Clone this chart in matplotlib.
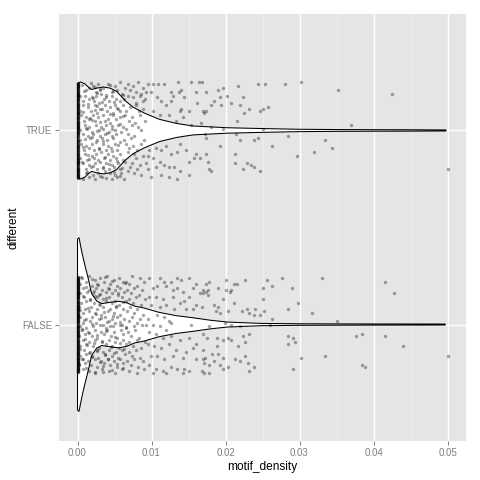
import numpy as np
import matplotlib
matplotlib.use("Agg")
import matplotlib.pyplot as plt

# categories on the y axis (bottom to top)
categories = ["FALSE", "TRUE"]

# violin outline: motif_density and half width (in category units)
true_violin_x = [0.0, 0.0004, 0.001, 0.0015, 0.0019, 0.0026, 0.0035, 0.0044, 0.0053, 0.0064,
                 0.0075, 0.0082, 0.0089, 0.0095, 0.0111, 0.0134, 0.0156, 0.0202, 0.0247,
                 0.030, 0.035, 0.040, 0.045, 0.0498]
true_violin_w = [0.240, 0.250, 0.240, 0.222, 0.211, 0.218, 0.224, 0.218, 0.201, 0.155,
                 0.120, 0.106, 0.092, 0.082, 0.057, 0.036, 0.023, 0.014, 0.010,
                 0.006, 0.0046, 0.004, 0.0036, 0.0026]

false_violin_x = [0.0, 0.0002, 0.0006, 0.001, 0.0014, 0.0019, 0.0026, 0.0033, 0.0045, 0.0055,
                  0.0066, 0.0077, 0.009, 0.011, 0.0133, 0.0156, 0.018, 0.0202, 0.0247,
                  0.030, 0.035, 0.040, 0.045, 0.0497]
false_violin_w = [0.440, 0.448, 0.371, 0.305, 0.245, 0.160, 0.121, 0.108, 0.115, 0.120,
                  0.113, 0.095, 0.085, 0.063, 0.046, 0.035, 0.022, 0.013, 0.006,
                  0.004, 0.0035, 0.003, 0.0028, 0.0025]

# jittered points: motif_density and vertical jitter
true_density = [
    0.0021, 0.0028, 0.0034, 0.0041, 0.0050, 0.0057, 0.0064, 0.0068, 0.0075, 0.0082, 0.0088,
    0.0012, 0.0016, 0.0025, 0.0031, 0.0046, 0.0053, 0.0060, 0.0071, 0.0079, 0.0086,
    0.0010, 0.0019, 0.0025, 0.0032, 0.0039, 0.0046, 0.0052, 0.0068, 0.0075, 0.0084, 0.0091,
    0.0007, 0.0015, 0.0022, 0.0029, 0.0036, 0.0043, 0.0058, 0.0063, 0.0079, 0.0089,
    0.0007, 0.0014, 0.0023, 0.0030, 0.0037, 0.0044, 0.0050, 0.0055, 0.0061, 0.0071, 0.0079, 0.0088,
    0.0003, 0.0018, 0.0026, 0.0033, 0.0040, 0.0048, 0.0057, 0.0066, 0.0083,
    0.0005, 0.0012, 0.0021, 0.0028, 0.0034, 0.0041, 0.0048, 0.0057, 0.0064, 0.0073, 0.0084,
    0.0009, 0.0016, 0.0024, 0.0037, 0.0044, 0.0052, 0.0069, 0.0078, 0.0091,
    0.0010, 0.0016, 0.0025, 0.0032, 0.0039, 0.0046, 0.0055, 0.0061, 0.0073, 0.0082,
    0.0004, 0.0013, 0.0020, 0.0029, 0.0035, 0.0042, 0.0050, 0.0066, 0.0086,
    0.0007, 0.0014, 0.0021, 0.0030, 0.0037, 0.0046, 0.0052, 0.0059, 0.0068, 0.0077,
    0.0003, 0.0017, 0.0026, 0.0033, 0.0040, 0.0048, 0.0063, 0.0072, 0.0090,
    0.0005, 0.0012, 0.0019, 0.0025, 0.0034, 0.0041, 0.0050, 0.0057, 0.0066, 0.0075, 0.0086,
    0.0009, 0.0015, 0.0022, 0.0029, 0.0038, 0.0045, 0.0053, 0.0070, 0.0081,
    0.0010, 0.0019, 0.0025, 0.0032, 0.0041, 0.0048, 0.0057, 0.0068, 0.0077, 0.0088,
    0.0004, 0.0013, 0.0022, 0.0028, 0.0036, 0.0044, 0.0052, 0.0061, 0.0079,
    0.0007, 0.0016, 0.0023, 0.0030, 0.0039, 0.0046, 0.0055, 0.0064, 0.0073, 0.0084, 0.0093,
    0.0011, 0.0018, 0.0026, 0.0034, 0.0042, 0.0049, 0.0058, 0.0071, 0.0080,
    0.0012, 0.0021, 0.0028, 0.0037, 0.0044, 0.0050, 0.0059, 0.0068, 0.0077, 0.0086,
    0.0008, 0.0016, 0.0024, 0.0033, 0.0047, 0.0054, 0.0063,
    0.0006, 0.0018, 0.0030, 0.0044, 0.0027, 0.0009, 0.0021, 0.0038, 0.0049, 0.0014,
    0.0033, 0.0053, 0.0008, 0.0023, 0.0044, 0.0017, 0.0031, 0.0047, 0.0011, 0.0026,
    0.0040, 0.0057, 0.0019, 0.0035, 0.0008, 0.0029, 0.0046, 0.0014, 0.0037, 0.0054,
    0.0006, 0.0021, 0.0042, 0.0013, 0.0031, 0.0049, 0.0060, 0.0039, 0.0024, 0.0062,
    0.0003, 0.0010, 0.0055, 0.0062, 0.0027, 0.0016, 0.0048, 0.0034, 0.0020, 0.0058,
    0.0095, 0.0102, 0.0109, 0.0117, 0.0136, 0.0153, 0.0164,
    0.0093, 0.0099, 0.0108, 0.0113, 0.0126, 0.0129, 0.0137, 0.0140, 0.0144, 0.0160,
    0.0120, 0.0126, 0.0138, 0.0140, 0.0151, 0.0162, 0.0102, 0.0111, 0.0124, 0.0133, 0.0142, 0.0153,
    0.0097, 0.0106, 0.0113, 0.0120, 0.0138, 0.0147, 0.0160, 0.0151, 0.0158, 0.0165,
    0.0095, 0.0102, 0.0111, 0.0126, 0.0135,
    0.0095, 0.0106, 0.0117, 0.0124, 0.0131, 0.0138, 0.0151, 0.0099, 0.0113, 0.0124, 0.0135,
    0.0168, 0.0174, 0.0190, 0.0196, 0.0217, 0.0244, 0.0254, 0.0281, 0.0302, 0.0352, 0.0425,
    0.0202, 0.0224, 0.0193, 0.0185, 0.0208, 0.0181, 0.0194, 0.0220, 0.0257, 0.0250, 0.0232,
    0.0170, 0.0173, 0.0247, 0.0225, 0.0171, 0.0215, 0.0167, 0.0370, 0.0180, 0.0196, 0.0250,
    0.0172, 0.0214, 0.0285, 0.0173, 0.0220, 0.0239, 0.0244, 0.0334, 0.0263, 0.0192, 0.0344,
    0.0320, 0.0297, 0.0173, 0.0213, 0.0177, 0.0229, 0.0213, 0.0234, 0.0238, 0.0178, 0.0224, 0.0180, 0.0247, 0.0500,
]
true_jitter = [
    0.23, 0.24, 0.22, 0.24, 0.23, 0.25, 0.22, 0.24, 0.23, 0.25, 0.22,
    0.21, 0.22, 0.20, 0.21, 0.20, 0.21, 0.19, 0.21, 0.20, 0.19,
    0.18, 0.17, 0.18, 0.19, 0.17, 0.18, 0.16, 0.18, 0.17, 0.18, 0.16,
    0.15, 0.16, 0.15, 0.14, 0.16, 0.15, 0.15, 0.16, 0.14, 0.15,
    0.13, 0.12, 0.13, 0.11, 0.13, 0.12, 0.13, 0.11, 0.13, 0.12, 0.13, 0.11,
    0.10, 0.10, 0.09, 0.11, 0.10, 0.09, 0.10, 0.10, 0.10,
    0.08, 0.07, 0.08, 0.07, 0.08, 0.06, 0.08, 0.07, 0.08, 0.07, 0.08,
    0.05, 0.06, 0.05, 0.05, 0.04, 0.06, 0.05, 0.04, 0.05,
    0.03, 0.02, 0.03, 0.02, 0.03, 0.01, 0.03, 0.02, 0.03, 0.02,
    0.00, 0.01, -0.01, 0.00, 0.01, -0.01, 0.00, 0.01, 0.00,
    -0.02, -0.03, -0.02, -0.03, -0.02, -0.03, -0.02, -0.01, -0.02, -0.03,
    -0.05, -0.04, -0.05, -0.04, -0.05, -0.04, -0.05, -0.04, -0.05,
    -0.07, -0.08, -0.07, -0.06, -0.07, -0.08, -0.07, -0.06, -0.07, -0.08, -0.07,
    -0.10, -0.09, -0.10, -0.09, -0.10, -0.09, -0.10, -0.09, -0.10,
    -0.12, -0.13, -0.12, -0.11, -0.12, -0.13, -0.12, -0.11, -0.12, -0.13,
    -0.14, -0.15, -0.14, -0.15, -0.14, -0.15, -0.14, -0.15, -0.14,
    -0.17, -0.18, -0.17, -0.16, -0.17, -0.18, -0.17, -0.16, -0.17, -0.18, -0.17,
    -0.20, -0.19, -0.20, -0.19, -0.20, -0.19, -0.20, -0.19, -0.20,
    -0.22, -0.23, -0.22, -0.21, -0.22, -0.23, -0.22, -0.21, -0.22, -0.23,
    -0.25, -0.24, -0.25, -0.24, -0.25, -0.24, -0.25,
    0.235, 0.245, 0.215, 0.235, 0.195, 0.205, 0.165, 0.185, 0.145, 0.135,
    0.145, 0.115, 0.095, 0.105, 0.085, 0.065, 0.045, 0.025, 0.015, -0.005,
    -0.015, 0.035, -0.035, -0.055, -0.085, -0.095, -0.105, -0.125, -0.135, -0.155,
    -0.165, -0.185, -0.175, -0.215, -0.235, -0.215, -0.195, -0.245, 0.225, 0.185,
    0.175, -0.045, -0.075, 0.075, 0.125, -0.145, 0.205, -0.195, 0.055, -0.235,
    0.24, 0.24, 0.24, 0.24, 0.25, 0.25, 0.25,
    0.20, 0.20, 0.17, 0.15, 0.20, 0.18, 0.20, 0.21, 0.17, 0.20,
    0.13, 0.15, 0.10, 0.11, 0.10, 0.14, 0.10, 0.08, 0.08, 0.05, 0.07, 0.03,
    -0.10, -0.09, -0.10, -0.08, -0.07, -0.10, -0.12, -0.16, -0.14, -0.14,
    -0.13, -0.14, -0.16, -0.12, -0.11,
    -0.20, -0.19, -0.18, -0.19, -0.19, -0.21, -0.23, -0.24, -0.23, -0.24, -0.25,
    0.25, 0.20, 0.21, 0.22, 0.23, 0.24, 0.24, 0.24, 0.25, 0.21, 0.19,
    0.18, 0.17, 0.17, 0.15, 0.14, 0.13, 0.13, 0.13, 0.12, 0.11, 0.11,
    0.10, 0.10, 0.10, 0.09, 0.09, 0.05, 0.04, 0.03, 0.02, 0.01, 0.01,
    -0.02, -0.02, -0.03, -0.04, -0.05, -0.05, -0.04, -0.05, -0.08, -0.08, -0.09,
    -0.11, -0.13, -0.12, -0.12, -0.16, -0.17, -0.17, -0.18, -0.19, -0.20, -0.20, -0.21, -0.21, -0.20,
]
# points sitting exactly at motif_density == 0 (only their jitter differs)
true_zero_jitter = [
    0.24, 0.17, -0.03, 0.09, -0.21, 0.13, -0.11, 0.02, 0.22, -0.16, 0.06, -0.24, 0.19, -0.07,
    0.11, -0.19, 0.04, 0.15, -0.13, -0.01, 0.23, -0.09, 0.08, -0.22, 0.18, -0.05, 0.12, -0.17,
    0.01, 0.20, -0.14, 0.07, -0.23, 0.14, -0.02, 0.10, -0.20, 0.05, 0.21, -0.12, -0.08, 0.16,
    -0.18, 0.03, 0.245, -0.10, 0.00, -0.245, 0.125, -0.065, 0.185, -0.155, 0.035, 0.225, -0.205,
    0.095, -0.035, 0.155, -0.125, 0.065, -0.225, 0.205, -0.085, 0.115, -0.175, 0.015, 0.175,
    -0.145, 0.045, -0.015, 0.235, -0.195, 0.085, -0.055, 0.135, -0.235, 0.025, -0.105, 0.195, -0.165,
    0.2425, 0.1375, -0.0275, 0.0825, -0.2125, 0.1625, -0.1175, 0.0125, 0.2125, -0.1575, 0.0575,
    -0.2375, 0.1875, -0.0725, 0.1075, -0.1925, 0.0375, 0.1525, -0.1375, -0.0075, 0.2275, -0.0925,
    0.0725, -0.2275, 0.1775, -0.0475, 0.1175, -0.1725, 0.0075, 0.1975, -0.1425, 0.0675, -0.2425,
    0.1425, -0.0175, 0.0975, -0.2025, 0.0475, 0.2175, -0.1275, -0.0825, 0.1675, -0.1825, 0.0275,
    0.2325, -0.1025, -0.0025, -0.2175, 0.1275, -0.0625, 0.1825, -0.1525, 0.0325, 0.2225, -0.2075,
    0.0925, -0.0375, 0.1575, -0.1225, 0.0625, -0.2225, 0.2075, -0.0875, 0.1125, -0.1675, 0.0175,
    0.1725, -0.1475, 0.0425, -0.0125, 0.2375, -0.1975, 0.0875, -0.0525, 0.1325, -0.2325, 0.0225,
    -0.1075, 0.1925, -0.1625,
]

false_density = [
    0.0006, 0.0015, 0.0023, 0.0031, 0.0040, 0.0049, 0.0056, 0.0065, 0.0074, 0.0085,
    0.0003, 0.0011, 0.0019, 0.0027, 0.0036, 0.0044, 0.0053, 0.0061, 0.0070, 0.0080, 0.0090,
    0.0008, 0.0016, 0.0025, 0.0033, 0.0041, 0.0050, 0.0058, 0.0067, 0.0077, 0.0087,
    0.0004, 0.0013, 0.0021, 0.0029, 0.0038, 0.0046, 0.0055, 0.0063, 0.0072, 0.0083,
    0.0009, 0.0017, 0.0026, 0.0034, 0.0043, 0.0051, 0.0060, 0.0069, 0.0079, 0.0091,
    0.0005, 0.0012, 0.0022, 0.0030, 0.0039, 0.0047, 0.0056, 0.0065, 0.0075, 0.0086,
    0.0002, 0.0010, 0.0018, 0.0027, 0.0035, 0.0044, 0.0052, 0.0062, 0.0071, 0.0081,
    0.0007, 0.0015, 0.0024, 0.0032, 0.0041, 0.0049, 0.0058, 0.0067, 0.0077, 0.0089,
    0.0004, 0.0012, 0.0020, 0.0029, 0.0037, 0.0046, 0.0054, 0.0063, 0.0073, 0.0084,
    0.0008, 0.0017, 0.0025, 0.0034, 0.0042, 0.0051, 0.0060, 0.0069, 0.0080, 0.0092,
    0.0003, 0.0011, 0.0021, 0.0030, 0.0039, 0.0048, 0.0057, 0.0066, 0.0076, 0.0087,
    0.0006, 0.0014, 0.0023, 0.0032, 0.0040, 0.0049, 0.0059, 0.0068, 0.0078,
    0.0002, 0.0010, 0.0019, 0.0027, 0.0036, 0.0045, 0.0053, 0.0062, 0.0072, 0.0083,
    0.0007, 0.0016, 0.0024, 0.0033, 0.0042, 0.0050, 0.0061, 0.0070, 0.0081, 0.0091,
    0.0004, 0.0012, 0.0021, 0.0029, 0.0038, 0.0047, 0.0056, 0.0065, 0.0075, 0.0086,
    0.0009, 0.0017, 0.0026, 0.0035, 0.0043, 0.0052, 0.0060, 0.0069, 0.0079,
    0.0003, 0.0011, 0.0020, 0.0028, 0.0037, 0.0046, 0.0055, 0.0064, 0.0074, 0.0085,
    0.0006, 0.0014, 0.0023, 0.0032, 0.0041, 0.0049, 0.0058, 0.0067, 0.0077, 0.0089,
    0.0002, 0.0010, 0.0018, 0.0027, 0.0036, 0.0044, 0.0053, 0.0062, 0.0072, 0.0082,
    0.0007, 0.0015, 0.0024, 0.0033, 0.0042, 0.0051, 0.0060, 0.0070, 0.0080, 0.0090,
    0.0005, 0.0019, 0.0028, 0.0037, 0.0046, 0.0011, 0.0022, 0.0031, 0.0043, 0.0055,
    0.0007, 0.0017, 0.0029, 0.0039, 0.0052, 0.0003, 0.0014, 0.0025, 0.0036, 0.0048,
    0.0009, 0.0020, 0.0032, 0.0044, 0.0057, 0.0006, 0.0016, 0.0027, 0.0038, 0.0050,
    0.0010, 0.0022, 0.0033, 0.0045, 0.0058, 0.0004, 0.0015, 0.0026, 0.0037, 0.0049,
    0.0008, 0.0019, 0.0030, 0.0041, 0.0054, 0.0012, 0.0023, 0.0035, 0.0047, 0.0062,
    0.0064, 0.0061, 0.0066, 0.0063, 0.0001, 0.0002, 0.0024, 0.0040, 0.0013, 0.0034,
    0.0097, 0.0111, 0.0117, 0.0126, 0.0135, 0.0140, 0.0150, 0.0160,
    0.0102, 0.0108, 0.0120, 0.0129, 0.0135, 0.0142, 0.0156, 0.0165,
    0.0097, 0.0106, 0.0115, 0.0129, 0.0138, 0.0144, 0.0151, 0.0160,
    0.0099, 0.0111, 0.0120, 0.0131, 0.0147, 0.0156,
    0.0095, 0.0108, 0.0117, 0.0124, 0.0102, 0.0111, 0.0120, 0.0126, 0.0153,
    0.0097, 0.0106, 0.0115, 0.0126, 0.0138, 0.0151, 0.0160,
    0.0095, 0.0104, 0.0113, 0.0124, 0.0133, 0.0147, 0.0156,
    0.0099, 0.0108, 0.0117, 0.0129, 0.0142, 0.0160,
    0.0097, 0.0106, 0.0115, 0.0126, 0.0135, 0.0144, 0.0151, 0.0102, 0.0120, 0.0142,
    0.0173, 0.0178, 0.0169, 0.0173, 0.0176, 0.0169, 0.0177, 0.0200, 0.0190, 0.0200,
    0.0207, 0.0212, 0.0216, 0.0227, 0.0206, 0.0196, 0.0212, 0.0250, 0.0256, 0.0263,
    0.0277, 0.0290, 0.0250, 0.0298, 0.0330, 0.0416, 0.0428, 0.0317, 0.0350,
    0.0168, 0.0184, 0.0190, 0.0187, 0.0193, 0.0203, 0.0222, 0.0229, 0.0232, 0.0238,
    0.0240, 0.0247, 0.0252, 0.0263, 0.0285, 0.0260, 0.0199, 0.0178, 0.0207, 0.0220,
    0.0169, 0.0175, 0.0189, 0.0196, 0.0204, 0.0207, 0.0223, 0.0232, 0.0227, 0.0217,
    0.0189, 0.0170, 0.0182, 0.0190, 0.0196, 0.0172, 0.0227, 0.0213, 0.0220,
    0.0285, 0.0291, 0.0294, 0.0285, 0.0302, 0.0334, 0.0376, 0.0384, 0.0416, 0.0440, 0.0500,
    0.0384, 0.0388, 0.0291, 0.0230, 0.0238, 0.0232, 0.0196, 0.0203, 0.0185, 0.0178,
    0.0171, 0.0168, 0.0178, 0.0171, 0.0193, 0.0169,
]
false_jitter = [
    0.24, 0.25, 0.23, 0.24, 0.25, 0.23, 0.24, 0.22, 0.25, 0.24,
    0.21, 0.22, 0.20, 0.21, 0.22, 0.21, 0.20, 0.22, 0.21, 0.20, 0.22,
    0.19, 0.18, 0.19, 0.18, 0.19, 0.18, 0.19, 0.18, 0.19, 0.18,
    0.16, 0.17, 0.16, 0.15, 0.17, 0.16, 0.15, 0.17, 0.16, 0.15,
    0.14, 0.13, 0.14, 0.13, 0.14, 0.12, 0.14, 0.13, 0.14, 0.13,
    0.11, 0.12, 0.11, 0.10, 0.12, 0.11, 0.10, 0.12, 0.11, 0.10,
    0.09, 0.08, 0.09, 0.08, 0.09, 0.08, 0.09, 0.08, 0.09, 0.08,
    0.06, 0.07, 0.06, 0.05, 0.07, 0.06, 0.05, 0.07, 0.06, 0.05,
    0.04, 0.03, 0.04, 0.03, 0.04, 0.03, 0.04, 0.03, 0.04, 0.03,
    0.01, 0.02, 0.01, 0.00, 0.02, 0.01, 0.00, 0.02, 0.01, 0.00,
    -0.01, -0.02, -0.01, 0.00, -0.02, -0.01, 0.00, -0.02, -0.01, 0.00,
    -0.03, -0.04, -0.03, -0.04, -0.03, -0.04, -0.03, -0.04, -0.03,
    -0.06, -0.05, -0.06, -0.07, -0.05, -0.06, -0.07, -0.05, -0.06, -0.07,
    -0.08, -0.09, -0.08, -0.09, -0.08, -0.09, -0.08, -0.09, -0.08, -0.09,
    -0.11, -0.10, -0.11, -0.12, -0.10, -0.11, -0.12, -0.10, -0.11, -0.12,
    -0.13, -0.14, -0.13, -0.14, -0.13, -0.14, -0.13, -0.14, -0.13,
    -0.16, -0.15, -0.16, -0.17, -0.15, -0.16, -0.17, -0.15, -0.16, -0.17,
    -0.18, -0.19, -0.18, -0.19, -0.18, -0.19, -0.18, -0.19, -0.18, -0.19,
    -0.21, -0.20, -0.21, -0.22, -0.20, -0.21, -0.22, -0.20, -0.21, -0.22,
    -0.23, -0.24, -0.25, -0.23, -0.24, -0.25, -0.23, -0.24, -0.25, -0.23,
    0.245, 0.235, 0.205, 0.245, 0.225, 0.195, 0.175, 0.155, 0.185, 0.165,
    0.145, 0.125, 0.105, 0.135, 0.095, 0.075, 0.085, 0.055, 0.065, 0.045,
    0.025, 0.005, 0.035, -0.005, 0.015, -0.025, -0.045, -0.055, -0.035, -0.065,
    -0.075, -0.095, -0.085, -0.115, -0.095, -0.125, -0.145, -0.135, -0.155, -0.145,
    -0.175, -0.165, -0.195, -0.175, -0.205, -0.225, -0.245, -0.215, -0.235, -0.225,
    0.215, 0.115, -0.015, -0.125, 0.215, -0.205, 0.145, 0.015, -0.105, -0.245,
    0.24, 0.24, 0.22, 0.22, 0.24, 0.23, 0.24, 0.21,
    0.19, 0.20, 0.20, 0.18, 0.19, 0.17, 0.19, 0.16,
    0.14, 0.14, 0.13, 0.14, 0.11, 0.12, 0.14, 0.10,
    0.10, 0.09, 0.10, 0.08, 0.08, 0.08,
    0.03, 0.05, 0.04, 0.02, 0.00, -0.01, -0.03, 0.01, 0.00,
    -0.04, -0.05, -0.07, -0.06, -0.08, -0.07, -0.10,
    -0.10, -0.11, -0.12, -0.10, -0.13, -0.14, -0.12,
    -0.16, -0.16, -0.18, -0.16, -0.17, -0.18,
    -0.21, -0.23, -0.24, -0.22, -0.23, -0.23, -0.24, -0.25, -0.25, -0.25,
    0.21, 0.22, 0.18, 0.17, 0.18, 0.16, 0.15, 0.23, 0.19, 0.18,
    0.18, 0.21, 0.21, 0.23, 0.17, 0.13, 0.11, 0.19, 0.23, 0.20,
    0.24, 0.19, 0.13, 0.11, 0.24, 0.22, 0.16, 0.06, 0.02,
    0.09, 0.10, 0.09, 0.07, 0.06, 0.07, 0.07, 0.08, 0.06, 0.05,
    0.08, 0.05, 0.07, 0.03, 0.08, 0.00, 0.01, -0.01, 0.00, -0.01,
    -0.05, -0.07, -0.07, -0.08, -0.07, -0.08, -0.06, -0.05, -0.09, -0.11,
    -0.11, -0.13, -0.15, -0.15, -0.17, -0.17, -0.16, -0.18, -0.19,
    -0.06, -0.07, -0.09, -0.10, -0.17, -0.16, -0.06, -0.05, -0.06, -0.11, -0.16,
    -0.21, -0.22, -0.23, -0.20, -0.22, -0.24, -0.23, -0.22, -0.19, -0.21,
    -0.20, -0.24, -0.25, -0.25, -0.21, -0.18,
]
false_zero_jitter = [
    -0.02, 0.21, -0.18, 0.07, 0.14, -0.09, 0.24, -0.23, 0.03, -0.13, 0.17, -0.06, 0.10, -0.20,
    0.01, 0.19, -0.15, 0.05, -0.24, 0.12, -0.04, 0.22, -0.11, 0.08, -0.19, 0.15, -0.01, 0.23,
    -0.16, 0.04, -0.08, 0.18, -0.22, 0.11, -0.12, 0.00, 0.20, -0.05, 0.13, -0.21, 0.06, -0.14,
    0.16, -0.10, 0.02, 0.245, -0.17, 0.09, -0.245, -0.07, 0.225, -0.035, 0.145, -0.195, 0.055,
    -0.125, 0.185, -0.015, 0.095, -0.225, 0.165, -0.085, 0.035, 0.205, -0.155, 0.115, -0.055,
    0.235, -0.175, 0.015, -0.105, 0.135, -0.235, 0.075, -0.025, 0.195, -0.145, 0.045, -0.205,
    0.175, -0.065, 0.105, -0.185, 0.025, 0.215, -0.115, 0.155, -0.045, 0.085, -0.215,
    -0.0225, 0.2075, -0.1775, 0.0725, 0.1425, -0.0875, 0.2375, -0.2275, 0.0325, -0.1325, 0.1725,
    -0.0575, 0.1025, -0.1975, 0.0125, 0.1875, -0.1475, 0.0525, -0.2375, 0.1225, -0.0375, 0.2175,
    -0.1075, 0.0825, -0.1875, 0.1525, -0.0075, 0.2275, -0.1575, 0.0425, -0.0775, 0.1775, -0.2175,
    0.1125, -0.1175, 0.0025, 0.1975, -0.0475, 0.1325, -0.2075, 0.0625, -0.1375, 0.1625, -0.0975,
    0.0225, 0.2425, -0.1675, 0.0925, -0.2425, -0.0675, 0.2225, -0.0325, 0.1475, -0.1925, 0.0575,
    -0.1225, 0.1825, -0.0125, 0.0975, -0.2225, 0.1675, -0.0825, 0.0375, 0.2025, -0.1525, 0.1175,
    -0.0525, 0.2325, -0.1725, 0.0175, -0.1025, 0.1375, -0.2325, 0.0775, -0.0275, 0.1925, -0.1425,
    0.0475, -0.2025, 0.1575,
]

x_ticks = [0.0, 0.01, 0.02, 0.03, 0.04, 0.05]
x_tick_labels = ["0.00", "0.01", "0.02", "0.03", "0.04", "0.05"]

plt.rcParams['font.family'] = ['Liberation Sans', 'DejaVu Sans']

fig = plt.figure(figsize=(4.8, 4.8), dpi=100)
ax = fig.add_axes([59 / 480, 39 / 480, 407 / 480, 427 / 480])
ax.set_facecolor('#E5E5E5')
for s in ax.spines.values():
    s.set_visible(False)

groups = [
    (1, false_violin_x, false_violin_w, false_density, false_jitter, false_zero_jitter),
    (2, true_violin_x, true_violin_w, true_density, true_jitter, true_zero_jitter),
]
for pos, vx, vw, dens, jit, zjit in groups:
    vx = np.array(vx)
    vw = np.array(vw)
    xs = np.concatenate([vx, vx[::-1]])
    ys = np.concatenate([pos + vw, (pos - vw)[::-1]])
    ax.fill(xs, ys, facecolor='white', edgecolor='black', lw=0.75, zorder=2)
    px = np.concatenate([np.array(dens), np.zeros(len(zjit))])
    py = pos + np.concatenate([np.array(jit), np.array(zjit)])
    ax.scatter(px, py, s=6, color='black', alpha=0.35, linewidths=0, zorder=3)

ax.set_xlim(-0.0025, 0.0525)
ax.set_ylim(0.4, 2.6)
ax.set_xticks(x_ticks)
ax.set_xticklabels(x_tick_labels)
ax.set_xticks([0.005, 0.015, 0.025, 0.035, 0.045], minor=True)
ax.set_yticks([1, 2])
ax.set_yticklabels(categories)
ax.grid(which='major', color='white', lw=1.0)
ax.grid(which='minor', axis='x', color='#F2F2F2', lw=0.5)
ax.set_axisbelow(True)
ax.tick_params(which='major', length=3, width=0.7, color='#7F7F7F',
               labelcolor='#7F7F7F', labelsize=7, pad=2)
ax.tick_params(which='minor', length=0)
ax.set_xlabel('motif_density', fontsize=8.6, labelpad=2)
ax.set_ylabel('different', fontsize=8.6, labelpad=2)

fig.savefig('out.png', dpi=100)
